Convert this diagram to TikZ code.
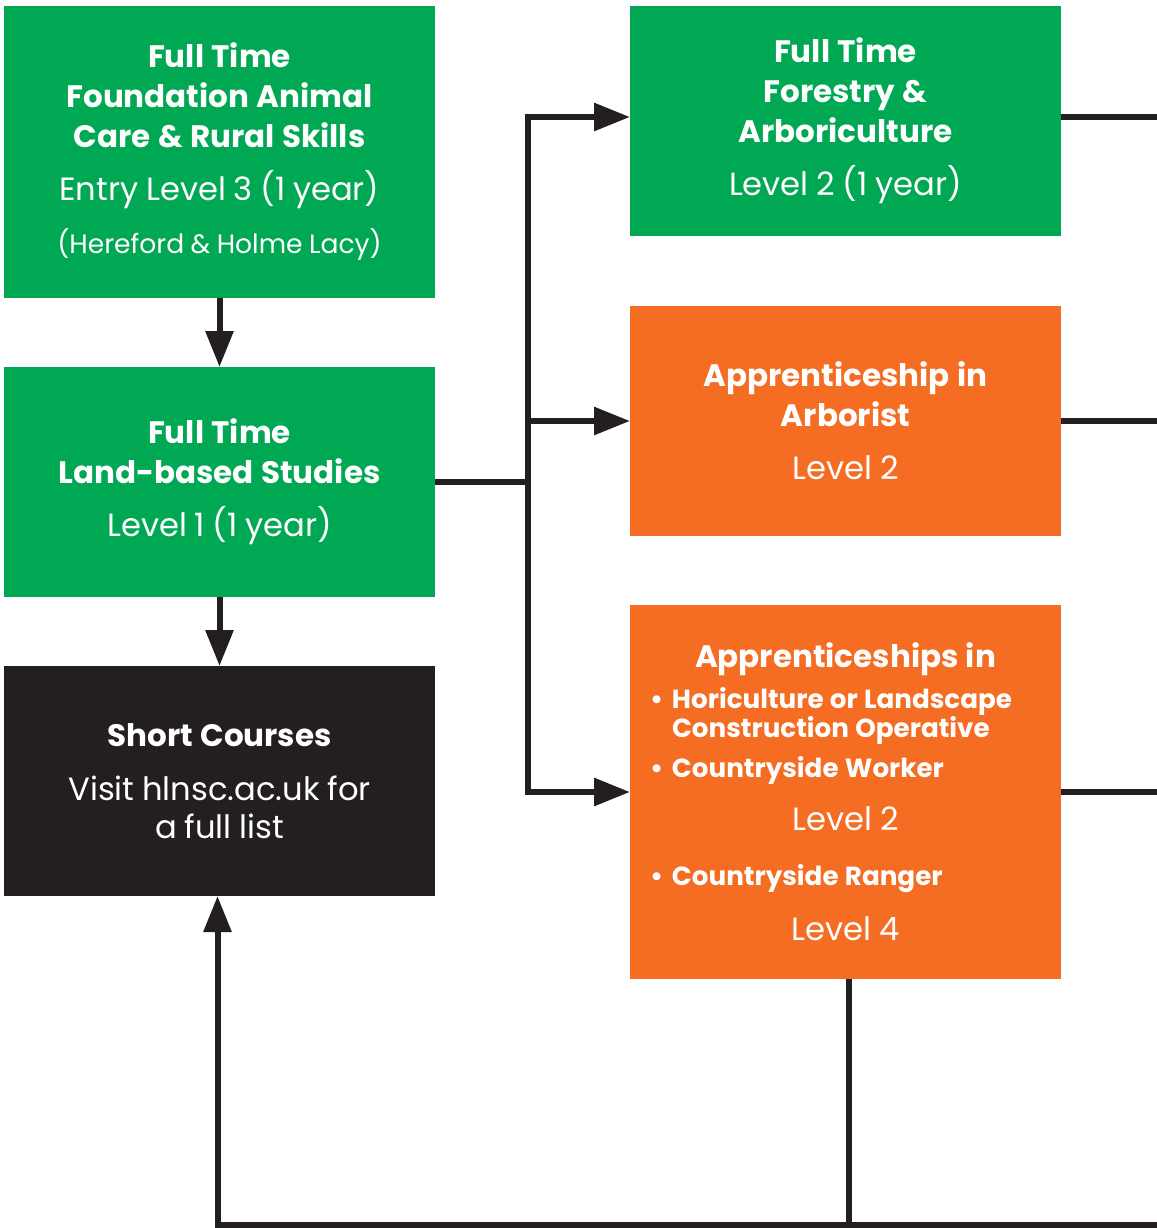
\documentclass[tikz,border=0pt]{standalone}
\usepackage{fontspec}
\setmainfont{Poppins}
\usetikzlibrary{positioning, arrows.meta}

\definecolor{courseGreen}{HTML}{00A854}
\definecolor{apprOrange}{HTML}{F46D22}
\definecolor{ink}{HTML}{231F20}

% the font reports no word space, so give one
\newcommand\wordgap{\spaceskip=.24em\relax}
\newcommand\headfont{\bfseries\fontsize{31}{40}\selectfont\wordgap}
\newcommand\levelfont[1][53]{\fontsize{32.2}{#1}\selectfont\wordgap}
\newcommand\sitefont{\fontsize{26.6}{53}\selectfont\wordgap}
\newcommand\bulletitem[2]{{\leftskip=22pt\rightskip=0pt plus 1fil\bfseries\fontsize{26.2}{#1}\selectfont\wordgap
    \noindent\llap{\makebox[22pt][l]{\textbullet}}#2\par}}

\begin{document}
\begin{tikzpicture}[
        x=1pt, y=-1pt,
        box/.style = {text=white, minimum width=431pt, minimum height=230pt, inner sep=0pt, outer sep=0pt,
                      text width=415pt, align=center},
        G/.style = {box, fill=courseGreen},
        O/.style = {box, fill=apprOrange},
        K/.style = {box, fill=ink},
        line/.style = {draw=ink, line width=6pt},
        arrow/.style = {line, -{Triangle[length=36pt, width=27pt]}}
    ]
        \useasboundingbox[fill=white] (0,0) rectangle (1156,1228);

        % left column
        \node[G, minimum height=292pt] (found) at (219.5,152) {%
            {\headfont Full Time\\Foundation Animal\\Care \& Rural Skills\par}
            {\levelfont Entry Level 3 (1 year)\par}
            {\sitefont (Hereford \& Holme Lacy)\par}};
        \node[G, below=69pt of found] (land) {%
            {\headfont Full Time\\Land-based Studies\par}
            {\levelfont Level 1 (1 year)\par}};
        \node[K, below=69pt of land] (short) {%
            {\headfont Short Courses\par}
            \vspace{16pt}
            {\levelfont[38] Visit hlnsc.ac.uk for\\a full list\par}};

        % right column
        \node[G] (forest) at (845.5,121) {%
            {\headfont Full Time\\Forestry \&\\Arboriculture\par}
            {\levelfont Level 2 (1 year)\par}};
        \node[O, below=70pt of forest] (arbor) {%
            {\headfont Apprenticeship in\\Arborist\par}
            {\levelfont Level 2\par}};
        \node[O, below=69pt of arbor, minimum height=374pt, text width=391pt] (appr) {%
            {\headfont Apprenticeships in\par}
            \vspace{11pt}
            \bulletitem{29}{Horiculture or Landscape\\Construction Operative}
            \bulletitem{40}{Countryside Worker}
            {\levelfont Level 2\par}
            \bulletitem{55}{Countryside Ranger}
            {\levelfont[55] Level 4\par}};

        \coordinate (split) at ([xshift=93pt]land.east);
        \coordinate (loop) at (1160,1225);

        \draw[arrow] (found) -- (land);
        \draw[arrow] (land) -- (short);
        \draw[arrow] (land.east) -- (split) |- ([yshift=4pt]forest.west);
        \draw[arrow] (split) |- (arbor.west);
        \draw[arrow] (split) |- (appr.west);

        \draw[line] ([yshift=4pt]forest.east) -- ([yshift=4pt]forest.east -| loop);
        \draw[line] (arbor.east) -- (arbor.east -| loop);
        \draw[line] (appr.east) -- (appr.east -| loop);
        \draw[line] ([xshift=3pt]appr.south) -- ([xshift=3pt]appr.south |- loop);
        \draw[arrow] (loop) -| ([xshift=-2pt]short.south);
    \end{tikzpicture}
\end{document}
